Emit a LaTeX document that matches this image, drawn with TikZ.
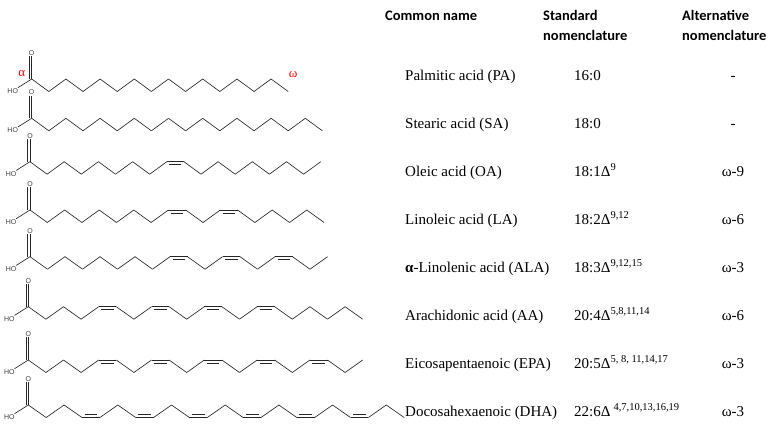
\documentclass[tikz,border=0pt]{standalone}
\usepackage{fontspec}
\setmainfont{Liberation Serif}
\newfontfamily\headfont{Carlito}
\newfontfamily\atomfont{Liberation Sans}
\usetikzlibrary{calc}
\tikzset{
  bond/.style={line width=0.65pt, black!85},
  atom/.style={font=\atomfont\fontsize{7}{7}\selectfont, text=black!75, inner sep=0.6pt},
  head/.style={font=\headfont\bfseries\fontsize{14.5}{20}\selectfont, align=left, anchor=base west, inner sep=0pt},
  entry/.style={font=\fontsize{15}{18}\selectfont, anchor=base west, inner sep=0pt},
  omega/.style={font=\fontsize{15}{18}\selectfont, anchor=base, inner sep=0pt},
  greek/.style={font=\fontsize{13}{13}\selectfont, text=red, inner sep=0pt},
}
\newcount\dbcount
\newcommand{\fattyacid}[6]{%
  \coordinate (#1-1) at (#2,#3);
  \foreach \k in {2,...,#5}{%
    \global\dbcount=0
    \foreach \d in {#6}{\ifx\d\empty\else\ifnum\d<\k\global\advance\dbcount by 1\fi\fi}
    \pgfmathsetmacro\cy{#3+12.5*mod(\k-1-\dbcount,2)}
    \coordinate (#1-\k) at ({#2+(\k-1)*#4},\cy);
  }
  \foreach \k [remember=\k as \prev (initially 1)] in {2,...,#5}
    \draw[bond] (#1-\prev) -- (#1-\k);
  \foreach \d in {#6}{%
    \ifx\d\empty\else
    \pgfmathtruncatemacro\e{\d+1}
    \pgfmathtruncatemacro\f{\d-1}
    \draw[bond] let \p1=(#1-\d), \p2=(#1-\e), \p3=(#1-\f), \n1={3pt*sign(\y3-\y1)} in (\x1+2.5pt,\y1+\n1) -- (\x2-2.5pt,\y2+\n1);
    \fi
  }
  \node[atom] (#1-O) at ($(#1-1)+(0,-26)$) {O};
  \node[atom] (#1-HO) at ($(#1-1)+(-19,12)$) {HO};
  \draw[bond] (#1-1) -- (#1-O);
  \draw[bond] ([xshift=-2.3pt]#1-1) -- ([xshift=-2.3pt]#1-O.south);
  \draw[bond] (#1-1) -- (#1-HO);
}

\begin{document}
\begin{tikzpicture}[x=1pt,y=-1pt]
\useasboundingbox (0,0) rectangle (775,426);
\node[head] (common) at (385,20) {Common name};
\node[head] (standard) at (543,40) {Standard\\nomenclature};
\node[head] (alternative) at (682,40) {Alternative\\nomenclature};

\fattyacid{PA}{31.7}{79}{17.1}{16}{}
\fattyacid{SA}{31.7}{118.3}{17.1}{18}{}
\fattyacid{OA}{30}{161.7}{17.1}{18}{9}
\fattyacid{LA}{30}{210}{17.3}{18}{9,12}
\fattyacid{ALA}{30}{256.7}{17.5}{18}{9,12,15}
\fattyacid{AA}{28.3}{306.7}{17.6}{20}{5,8,11,14}
\fattyacid{EPA}{28.3}{360}{17.6}{20}{5,8,11,14,17}
\fattyacid{DHA}{28.3}{405}{17.9}{22}{4,7,10,13,16,19}
\node[greek] (alpha) at ($(PA-1)+(-10,-6)$) {α};
\node[greek] (omega) at ($(PA-16)+(5,-17)$) {ω};

\foreach \nm/\sd/\al [count=\i from 0] in {
  Palmitic acid (PA)/16:0/-,
  Stearic acid (SA)/18:0/-,
  Oleic acid (OA)/{18:1Δ\textsuperscript{9}}/ω-9,
  Linoleic acid (LA)/{18:2Δ\textsuperscript{9,12}}/ω-6,
  {\textbf{α}-Linolenic acid (ALA)}/{18:3Δ\textsuperscript{9,12,15}}/ω-3,
  Arachidonic acid (AA)/{20:4Δ\textsuperscript{5,8,11,14}}/ω-6,
  Eicosapentaenoic (EPA)/{20:5Δ\textsuperscript{5, 8, 11,14,17}}/ω-3,
  Docosahexaenoic (DHA)/{22:6Δ\hspace{3pt}\textsuperscript{4,7,10,13,16,19}}/ω-3}{
  \node[entry] (name-\i) at (405,{80+48*\i}) {\nm};
  \node[entry] (std-\i) at (574,{80+48*\i}) {\sd};
  \node[omega] (alt-\i) at (733,{80+48*\i}) {\al};
}
\end{tikzpicture}
\end{document}
